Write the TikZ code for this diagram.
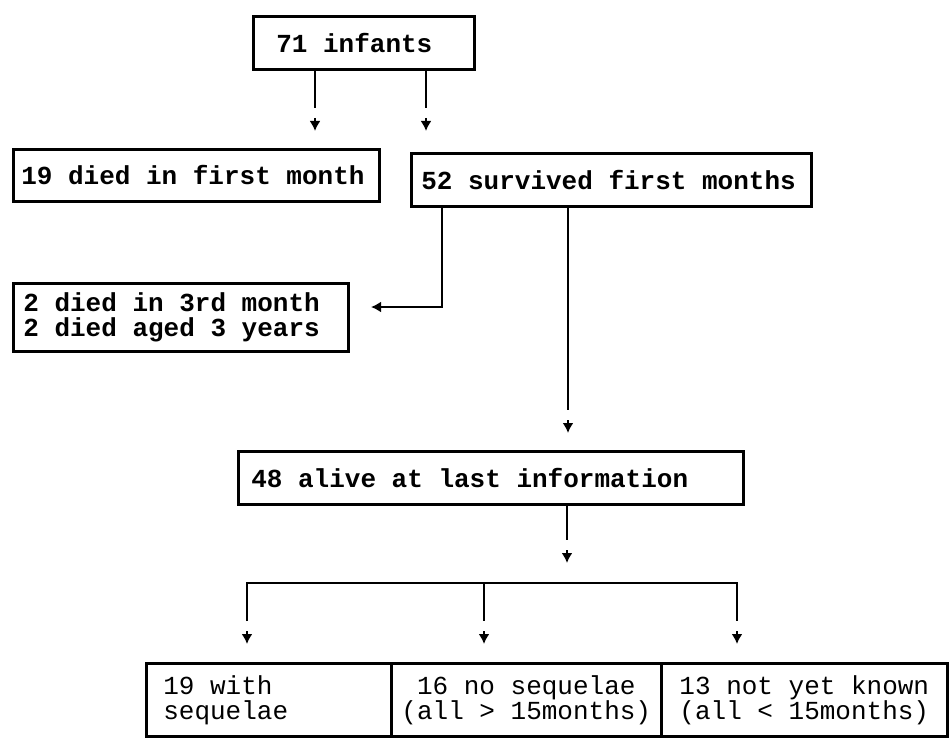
\documentclass[tikz,border=0pt]{standalone}
\usepackage{fontspec}
\newfontfamily\typewriter{Liberation Mono}
\usetikzlibrary{arrows.meta}
\tikzset{>={Latex[length=5pt,width=5.5pt]}}
\tikzset{
  flowbox/.style={draw, line width=1.3pt, anchor=north west, inner sep=0pt, align=left,
    font=\typewriter\bfseries\fontsize{13}{12.5}\selectfont,
    execute at begin node={\spaceskip=7.8pt\relax\xspaceskip=7.8pt\relax}},
  lastbox/.style={flowbox, font=\typewriter\fontsize{13}{12.5}\selectfont},
  flowline/.style={line width=1.3pt},
}
% short arrow below the end of a line, with a small gap
\newcommand{\tickarrow}[1]{\draw[flowline, ->] ([yshift=-5pt]#1) -- ([yshift=-11.5pt]#1);}

\begin{document}
\begin{tikzpicture}[x=0.5pt, y=-0.5pt]
  \useasboundingbox (0,0) rectangle (952,743);

  % boxes
  \node[flowbox, minimum width=110.5pt, minimum height=26.5pt, text width=87.5pt] (infants) at (252,15) {71 infants};
  \node[flowbox, minimum width=183pt, minimum height=26pt, text width=175pt] (died) at (12,148) {19 died in first month};
  \node[flowbox, minimum width=200pt, minimum height=26.5pt, text width=190pt] (surv) at (410,152) {52 survived first months};
  \node[flowbox, minimum width=167.5pt, minimum height=34pt, text width=157.5pt] (later) at (12,282) {2 died in 3rd month\\2 died aged 3 years};
  \node[flowbox, minimum width=252.5pt, minimum height=26.5pt, text width=239.5pt] (alive) at (237,450) {48 alive at last information};
  \node[lastbox, minimum width=122.5pt, minimum height=36.5pt, text width=105.5pt] (withseq) at (145,662) {19 with\\sequelae};
  \node[lastbox, minimum width=135pt, minimum height=36.5pt, text width=130pt, align=center] (noseq) at (390,662) {16 no sequelae\\(all > 15months)};
  \node[lastbox, minimum width=143pt, minimum height=36.5pt, text width=135pt, align=center] (notyet) at (660,662) {13 not yet known\\(all < 15months)};

  % connectors
  \coordinate (c1) at (315,108);
  \coordinate (c2) at (426,108);
  \draw[flowline] (infants.south -| c1) -- (c1);
  \draw[flowline] (infants.south -| c2) -- (c2);
  \tickarrow{c1}
  \tickarrow{c2}

  \coordinate (k1) at (442,307);
  \coordinate (tip3) at (371,307);
  \draw[flowline, ->] (surv.south -| k1) -- (k1) -- (tip3);

  \coordinate (c4) at (568,410);
  \draw[flowline] (surv.south -| c4) -- (c4);
  \tickarrow{c4}

  \coordinate (c5) at (567,540);
  \draw[flowline] (alive.south -| c5) -- (c5);
  \tickarrow{c5}

  \coordinate (b1) at (247,583);
  \coordinate (b2) at (484,583);
  \coordinate (b3) at (737,583);
  \coordinate (d1) at (247,621);
  \coordinate (d2) at (484,621);
  \coordinate (d3) at (737,621);
  \draw[flowline] (d1) -- (b1) -- (b3) -- (d3);
  \draw[flowline] (b2) -- (d2);
  \foreach \i in {1,2,3} {\tickarrow{d\i}}
\end{tikzpicture}
\end{document}
